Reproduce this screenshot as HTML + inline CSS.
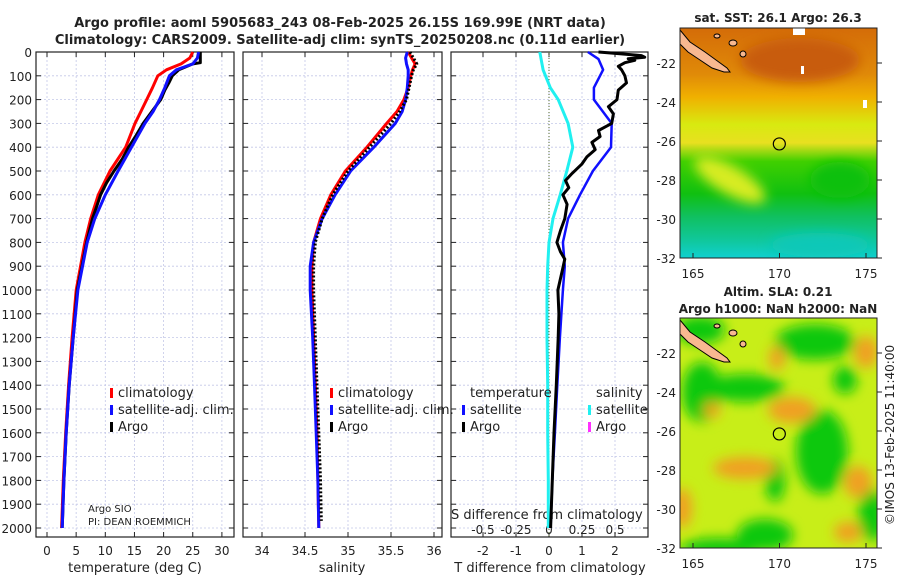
<!DOCTYPE html>
<html><head><meta charset="utf-8">
<style>
body{margin:0;background:#fff;font-family:"DejaVu Sans","Liberation Sans",sans-serif;}
svg text{font-family:"DejaVu Sans","Liberation Sans",sans-serif;fill:#222;}
</style></head>
<body>
<svg id="fig" width="900" height="580" viewBox="0 0 900 580" xmlns="http://www.w3.org/2000/svg">
<defs>
<filter id="blur" x="-50%" y="-50%" width="200%" height="200%"><feGaussianBlur stdDeviation="6"/></filter>
<clipPath id="clip1"><rect x="680" y="28" width="197" height="230"/></clipPath>
<clipPath id="clip2"><rect x="680" y="318" width="197" height="230"/></clipPath>
<linearGradient id="sstgrad" x1="0" y1="0" x2="0" y2="1">
<stop offset="0" stop-color="#d46c08"/><stop offset="0.2" stop-color="#e08a08"/>
<stop offset="0.3" stop-color="#f0b000"/><stop offset="0.42" stop-color="#d8ea10"/>
<stop offset="0.5" stop-color="#e8e020"/><stop offset="0.58" stop-color="#40d000"/>
<stop offset="0.72" stop-color="#10c010"/><stop offset="0.82" stop-color="#10c060"/>
<stop offset="0.93" stop-color="#10c8a0"/><stop offset="1" stop-color="#10d0d0"/>
</linearGradient>
</defs>
<g id="titles">
<text x="340" y="27" text-anchor="middle" font-size="13" font-weight="bold">Argo profile: aoml 5905683_243 08-Feb-2025 26.15S 169.99E (NRT data)</text>
<text x="340" y="44" text-anchor="middle" font-size="13" font-weight="bold">Climatology: CARS2009. Satellite-adj clim: synTS_20250208.nc (0.11d earlier)</text>
<text x="778" y="22" text-anchor="middle" font-size="12" font-weight="bold">sat. SST: 26.1 Argo: 26.3</text>
<text x="778" y="296" text-anchor="middle" font-size="12" font-weight="bold">Altim. SLA: 0.21</text>
<text x="778" y="313" text-anchor="middle" font-size="12" font-weight="bold">Argo h1000: NaN h2000: NaN</text>
<text transform="translate(894,435) rotate(-90)" text-anchor="middle" font-size="12">©IMOS 13-Feb-2025 11:40:00</text>
</g>
<g id="panels"></g>
<g id="maps"></g>
</svg>
<script>
// ---- data ----
const tDepth  = [0,25,50,75,100,150,200,250,300,400,500,600,700,800,1000,1200,1400,1600,1800,2000];
const tClim   = [25.0,24.5,23.0,20.5,19.0,18.1,17.1,16.1,15.1,13.5,10.8,8.8,7.5,6.5,5.0,4.3,3.7,3.2,2.8,2.5];
const tSat    = [26.0,25.8,25.0,22.2,21.0,20.2,19.3,18.2,16.8,14.5,12.2,10.0,8.2,6.9,5.3,4.5,3.8,3.3,2.9,2.6];
const tArgoDepth = [0,10,20,30,45,50,60,75,100,130,160,200,250,300,350,400,450,500,550,600,650,700,800,900,1000,1200,1400,1600,1800,2000];
const tArgo   = [26.3,26.3,26.3,26.3,26.3,25.0,24.0,22.6,21.5,20.9,20.2,19.5,18.0,16.5,15.3,14.0,12.9,11.5,10.2,9.2,8.5,7.8,6.8,6.0,5.2,4.5,3.8,3.3,2.9,2.6];
const sDepth  = [0,25,50,75,100,150,200,250,300,400,500,600,700,800,900,1000,1200,1400,1600,1800,2000];
const sClim   = [35.70,35.74,35.78,35.75,35.73,35.70,35.65,35.57,35.45,35.22,34.97,34.80,34.68,34.60,34.58,34.58,34.60,34.62,34.64,34.65,34.66];
const sSat    = [35.69,35.67,35.68,35.70,35.70,35.69,35.67,35.63,35.55,35.30,35.03,34.85,34.70,34.60,34.56,34.56,34.59,34.61,34.63,34.65,34.66];
const sArgoDepth = [0,25,50,75,100,150,200,250,300,400,500,600,700,800,900,1000,1200,1400,1600,1800,1970];
const sArgo   = [35.72,35.76,35.80,35.76,35.74,35.71,35.68,35.60,35.50,35.25,35.00,34.82,34.70,34.62,34.60,34.60,34.62,34.64,34.66,34.68,34.69];
const dDepth  = [0,30,75,150,200,300,400,500,600,700,800,900,1000,1200,1400,1600,1800,2000];
const dTSat   = [1.18,1.5,1.64,1.36,1.36,1.9,1.88,1.33,0.94,0.58,0.42,0.48,0.42,0.33,0.25,0.18,0.1,0.05];
const dSSat   = [-0.07,-0.06,-0.045,0.01,0.07,0.145,0.18,0.135,0.085,0.03,0,-0.01,-0.015,-0.015,-0.01,-0.01,-0.005,-0.005];
const dArgoDepth = [0,8,15,22,28,35,45,60,75,100,130,160,200,230,260,300,330,355,380,410,440,470,510,540,570,600,640,700,750,800,840,870,920,1000,1100,1200,1400,1600,1800,2000];
const dTArgo  = [1.5,2.2,2.8,2.9,2.4,2.6,2.3,2.1,2.2,2.3,2.35,2.1,2.06,1.8,1.95,1.9,1.5,1.55,1.3,1.4,1.15,1.0,0.7,0.5,0.6,0.42,0.55,0.48,0.35,0.24,0.35,0.48,0.4,0.27,0.3,0.28,0.22,0.15,0.1,0.05];
const depthTicks = [0,100,200,300,400,500,600,700,800,900,1000,1100,1200,1300,1400,1500,1600,1700,1800,1900,2000];
const tTicks = [0,5,10,15,20,25,30];
const sTicks = [34,34.5,35,35.5,36];
const sTickLabels = ["34","34.5","35","35.5","36"];
const dTTicks = [-2,-1,0,1,2];
const dSTicks = [-0.5,-0.25,0,0.25,0.5];
const dSTickLabels = ["-0.5","-0.25","0","0.25","0.5"];

// ---- scales ----
const NS='http://www.w3.org/2000/svg';
const Y0=52, YTOP=52, YBOT=537;
const yD = d => Y0 + d*0.238;
const xT = v => 47 + v*5.83;
const xS = v => 262 + (v-34)*86;
const xDT = v => 549 + v*33;
const xDS = v => 549 + v*132;
const panels = document.getElementById('panels');
function mk(tag, attrs, parent){const e=document.createElementNS(NS,tag);for(const k in attrs)e.setAttribute(k,attrs[k]);(parent||panels).appendChild(e);return e;}
function txt(x,y,s,size,anchor,parent){const t=mk('text',{x:x,y:y,'font-size':size,'text-anchor':anchor||'start'},parent);t.textContent=s;return t;}

const panelDefs=[{x0:36,x1:234,name:'temperature-panel'},{x0:243,x1:442,name:'salinity-panel'},{x0:451,x1:648,name:'difference-panel'}];
const xtickSets=[[tTicks,xT,tTicks.map(String)],[sTicks,xS,sTickLabels],[dTTicks,xDT,dTTicks.map(String)]];
panelDefs.forEach((p,i)=>{
  const g=mk('g',{});
  
  
  depthTicks.forEach(d=>{ mk('line',{x1:p.x0,x2:p.x1,y1:yD(d),y2:yD(d),stroke:'#c4c8e8','stroke-width':0.8,'stroke-dasharray':'2,2'},g);
    mk('line',{x1:p.x0,x2:p.x0+5,y1:yD(d),y2:yD(d),stroke:'#222'},g); mk('line',{x1:p.x1-5,x2:p.x1,y1:yD(d),y2:yD(d),stroke:'#222'},g);});
  const [ticks,sc,labs]=xtickSets[i];
  ticks.forEach((v,k)=>{const x=sc(v);
    mk('line',{x1:x,x2:x,y1:YTOP,y2:YBOT,stroke:'#c4c8e8','stroke-width':0.8,'stroke-dasharray':'2,2'},g);
    mk('line',{x1:x,x2:x,y1:YBOT-5,y2:YBOT,stroke:'#222'},g);mk('line',{x1:x,x2:x,y1:YTOP,y2:YTOP+5,stroke:'#222'},g);
    const t=txt(x,555,labs[k],12,'middle',g);
    
    
  });
  mk('rect',{x:p.x0,y:YTOP,width:p.x1-p.x0,height:YBOT-YTOP,fill:'none',stroke:'#222','stroke-width':1.2},g);
});
depthTicks.forEach(d=>{const t=txt(32,yD(d)+5,String(d),12,'end');
  
  });
[[135,'temperature (deg C)'],[342,'salinity'],[550,'T difference from climatology']].forEach(a=>{
  const t=txt(a[0],572,a[1],13,'middle');
  
  });
dSTicks.forEach((v,k)=>{const t=txt(xDS(v),534,dSTickLabels[k],12,'middle');
  
  });
{const t=txt(451,519,'S difference from climatology',13,'start');

}
mk('line',{x1:549,x2:549,y1:YTOP,y2:YBOT,stroke:'#556b2f','stroke-width':1,'stroke-dasharray':'1,2'});

function line(depths, vals, sc, color, w, name, dash){
  const pts=depths.map((d,i)=>sc(vals[i]).toFixed(1)+','+yD(d).toFixed(1)).join(' ');
  const pl=mk('polyline',{points:pts,fill:'none',stroke:color,'stroke-width':w,'stroke-linejoin':'round'});
  if(dash) pl.setAttribute('stroke-dasharray',dash);
  
  
}
line(tDepth,tClim,xT,'#ff0000',3,'temp-climatology-line');
line(tArgoDepth,tArgo,xT,'#000000',3,'temp-argo-line');
line(tDepth,tSat,xT,'#1010ff',3,'temp-satellite-line');
line(sDepth,sClim,xS,'#ff0000',3,'sal-climatology-line');
line(sDepth,sSat,xS,'#1010ff',3,'sal-satellite-line');
line(sArgoDepth,sArgo,xS,'#000000',3,'sal-argo-line','2,2');
line(dDepth,dSSat,xDS,'#20f0f0',3,'sdiff-satellite-line');
line(dDepth,dTSat,xDT,'#1010ff',2.5,'tdiff-satellite-line');
line(dArgoDepth,dTArgo,xDT,'#000000',3,'tdiff-argo-line');

function legend(x,y,color,label,name){
  const g=mk('g',{});
  
  
  mk('rect',{x:x,y:y-9,width:3,height:10,fill:color},g);
  txt(x+8,y,label,13,'start',g);
}
legend(110,397,'#ff0000','climatology','legend-entry-climatology');
legend(110,414,'#1010ff','satellite-adj. clim.','legend-entry-satellite');
legend(110,431,'#000000','Argo','legend-entry-argo');
legend(330,397,'#ff0000','climatology','legend-entry-climatology-sal');
legend(330,414,'#1010ff','satellite-adj. clim.','legend-entry-satellite-sal');
legend(330,431,'#000000','Argo','legend-entry-argo-sal');
{const t=txt(470,397,'temperature',13,'start');}
{const t=txt(596,397,'salinity',13,'start');}
legend(462,414,'#1010ff','satellite','legend-entry-t-satellite');
legend(462,431,'#000000','Argo','legend-entry-t-argo');
legend(588,414,'#20f0f0','satellite','legend-entry-s-satellite');
legend(588,431,'#ff30ff','Argo','legend-entry-s-argo');
{const t=txt(88,512,'Argo SIO',10,'start');}
{const t=txt(88,525,'PI: DEAN ROEMMICH',10,'start');}

// ---- maps ----
const maps=document.getElementById('maps');
const latTicks=[-22,-24,-26,-28,-30,-32];
const lonTicks=[165,170,175];
const xLon=v=>693+(v-165)*17.3;
function drawMap(top,name,clip,fillFn){
  const yLat=v=>top+35+(-22-v)*19.5;
  const g=mk('g',{},maps);
  
  
  const c=mk('g',{'clip-path':'url(#'+clip+')'},g);
  fillFn(c,yLat);
  mk('path',{d:`M680,${top+2} L690,${top+14} L705,${top+24} L716,${top+32} L727,${top+40} L730,${top+44} L724,${top+44} L712,${top+40} L700,${top+32} L688,${top+24} L680,${top+16} Z`,fill:'#f8b890',stroke:'#000','stroke-width':1},c);
  mk('ellipse',{cx:733,cy:top+15,rx:4,ry:3,fill:'#f8b890',stroke:'#000'},c);
  mk('ellipse',{cx:743,cy:top+26,rx:3,ry:3,fill:'#f8b890',stroke:'#000'},c);
  mk('ellipse',{cx:717,cy:top+8,rx:3,ry:2,fill:'#f8b890',stroke:'#000'},c);
  mk('circle',{cx:xLon(169.99),cy:yLat(-26.15),r:6,fill:'none',stroke:'#000','stroke-width':1.2},g);
  mk('rect',{x:680,y:top,width:197,height:230,fill:'none',stroke:'#222','stroke-width':1},g);
  latTicks.forEach(v=>{mk('line',{x1:877,x2:882,y1:yLat(v),y2:yLat(v),stroke:'#222'},g);
    const t=txt(676,yLat(v)+5,String(v),12,'end',g);
    
    });
  lonTicks.forEach(v=>{mk('line',{x1:xLon(v),x2:xLon(v),y1:top+230,y2:top+225,stroke:'#222'},g);
    const t=txt(xLon(v),top+250,String(v),12,'middle',g);
    
    });
}
drawMap(28,'sst-map','clip1',(c,yLat)=>{
  mk('rect',{x:680,y:28,width:197,height:230,fill:'url(#sstgrad)'},c);
  const b=mk('g',{filter:'url(#blur)'},c);
  mk('ellipse',{cx:730,cy:180,rx:40,ry:14,fill:'#d8ec20',transform:'rotate(30 730 180)'},b);
  mk('ellipse',{cx:800,cy:60,rx:60,ry:22,fill:'#c85c08'},b);
  mk('ellipse',{cx:840,cy:180,rx:30,ry:18,fill:'#10c010'},b);
  mk('ellipse',{cx:820,cy:245,rx:50,ry:12,fill:'#10c8b8'},b);
  mk('rect',{x:793,y:28,width:12,height:7,fill:'#fff'},c);
  mk('rect',{x:801,y:66,width:3,height:8,fill:'#fff'},c);
  mk('rect',{x:863,y:100,width:4,height:8,fill:'#fff'},c);
});
drawMap(318,'sla-map','clip2',(c,yLat)=>{
  mk('rect',{x:680,y:318,width:197,height:230,fill:'#c8ee18'},c);
  const b=mk('g',{filter:'url(#blur)'},c);
  [[702,392,20,30],[745,388,40,14],[822,452,26,42],[815,342,40,18],[700,330,25,14],[765,535,28,16],[872,515,14,26],[775,480,10,22],[720,548,40,10],[845,380,12,14]].forEach(e=>mk('ellipse',{cx:e[0],cy:e[1],rx:e[2],ry:e[3],fill:'#10c810'},b));
  [[792,410,24,13],[745,468,32,11],[682,508,10,20],[858,482,14,16],[866,352,12,16],[777,358,8,12],[848,532,14,10],[712,410,8,8]].forEach(e=>mk('ellipse',{cx:e[0],cy:e[1],rx:e[2],ry:e[3],fill:'#f0a020'},b));
});
</script>
</body></html>
